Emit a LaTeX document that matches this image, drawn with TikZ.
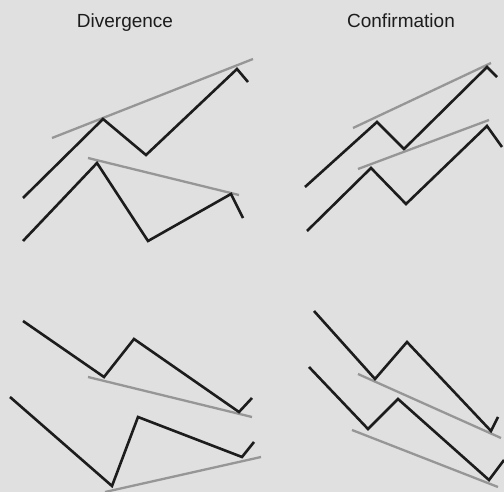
\documentclass[tikz,border=0pt]{standalone}
\usepackage{fontspec}
\setmainfont{Liberation Sans}
\definecolor{bg}{RGB}{224,224,224}
\definecolor{ink}{RGB}{28,28,28}
\definecolor{trend}{RGB}{150,150,150}
\begin{document}
\begin{tikzpicture}[x=1pt,y=-1pt,
  price/.style={draw=ink,line width=2.6pt,line join=miter},
  trendline/.style={draw=trend,line width=2.3pt},
  title/.style={font=\fontsize{19}{21}\selectfont,text=ink,anchor=base}]
\fill[bg] (0,0) rectangle (504,492);
\useasboundingbox (0,0) rectangle (504,492);
\node[title] (t1) at (125,28) {Divergence};
\node[title] (t2) at (401,28) {Confirmation};
% top-left
\draw[trendline] (52,138) -- (253,59);
\draw[price] (23,198) -- (103,119) -- (146,155) -- (237,69) -- (248,82);
\draw[trendline] (88,158) -- (239,195);
\draw[price] (23,241) -- (97,163) -- (148,241) -- (231,194) -- (243,218);
% top-right
\draw[trendline] (353,128) -- (491,63);
\draw[price] (305,187) -- (377,122) -- (404,149) -- (487,67) -- (497,77);
\draw[trendline] (358,169) -- (489,120);
\draw[price] (307,231) -- (371,168) -- (406,204) -- (487,126) -- (502,147);
% bottom-left
\draw[trendline] (88,377) -- (252,417);
\draw[price] (23,321) -- (104,377) -- (134,339) -- (239,412) -- (252,398);
\draw[trendline] (105,492) -- (261,457);
\draw[price] (10,397) -- (112,486) -- (138,417) -- (242,457) -- (254,442);
% bottom-right
\draw[trendline] (358,374) -- (501,438);
\draw[price] (314,311) -- (375,379) -- (407,342) -- (491,431) -- (498,417);
\draw[trendline] (352,430) -- (498,487);
\draw[price] (309,367) -- (368,429) -- (398,399) -- (489,480) -- (504,460);
\end{tikzpicture}
\end{document}
